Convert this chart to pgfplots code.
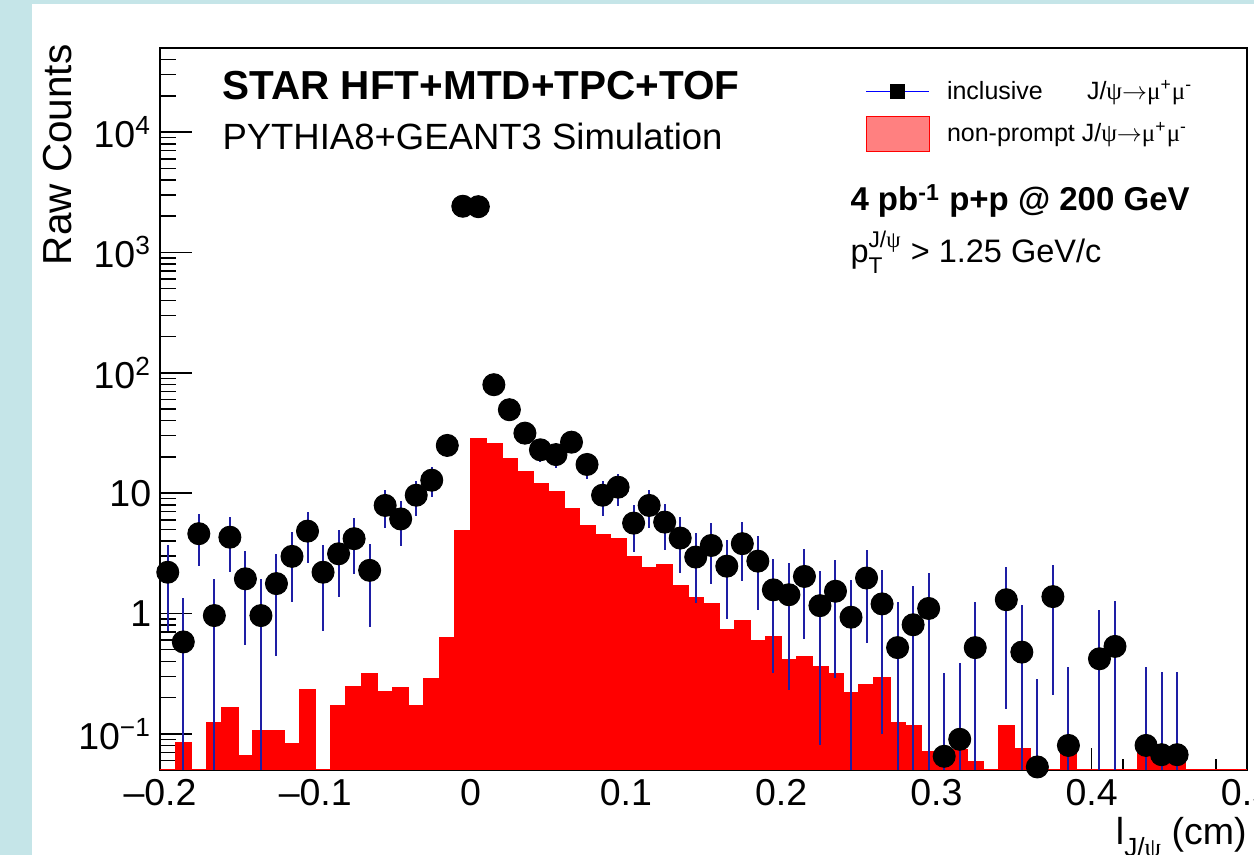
\documentclass[border=0pt]{standalone}
\usepackage{pgfplots}
\pgfplotsset{compat=1.18}
\usepackage{pgfplotstable}
\usepackage{amsmath}
\usepackage{fontspec}
\setmainfont{Liberation Sans}
\newfontfamily\symf{Liberation Serif}
\definecolor{bgblue}{RGB}{197,229,232}
\definecolor{errblue}{RGB}{30,30,165}
\newcommand{\jpmm}{J/{\symf ψ}$\rightarrow${\symf μ}\textsuperscript{+}{\symf μ}\textsuperscript{-}}

\pgfplotstableread{
x y ep em
-0.195 2.2 1.48 1.48
-0.185 0.58 0.76 0.56
-0.175 4.6 2.14 2.14
-0.165 0.96 0.98 0.94
-0.155 4.3 2.07 2.07
-0.145 1.94 1.39 1.39
-0.135 0.96 0.98 0.94
-0.125 1.77 1.33 1.33
-0.115 2.98 1.73 1.73
-0.105 4.83 2.20 2.20
-0.095 2.2 1.48 1.48
-0.085 3.13 1.77 1.77
-0.075 4.18 2.04 2.04
-0.065 2.28 1.51 1.51
-0.055 7.9 2.81 2.81
-0.045 6.1 2.47 2.47
-0.035 9.6 3.10 3.10
-0.025 12.8 3.58 3.58
-0.015 24.9 4.99 4.99
-0.005 2420 49.2 49.2
0.005 2400 49.0 49.0
0.015 79.6 8.9 8.9
0.025 49.3 7.0 7.0
0.035 31.5 5.6 5.6
0.045 22.9 4.8 4.8
0.055 20.9 4.6 4.6
0.065 26.5 5.1 5.1
0.075 17.3 4.2 4.2
0.085 9.6 3.1 3.1
0.095 11.2 3.35 3.35
0.105 5.63 2.37 2.37
0.115 7.9 2.81 2.81
0.125 5.74 2.40 2.40
0.135 4.23 2.06 2.06
0.145 2.94 1.71 1.71
0.155 3.67 1.92 1.92
0.165 2.47 1.57 1.57
0.175 3.80 1.95 1.95
0.185 2.72 1.65 1.65
0.195 1.57 1.25 1.25
0.205 1.43 1.20 1.20
0.215 2.03 1.42 1.42
0.225 1.16 1.08 1.08
0.235 1.53 1.24 1.24
0.245 0.93 0.96 0.91
0.255 1.97 1.40 1.40
0.265 1.20 1.10 1.10
0.275 0.52 0.72 0.50
0.285 0.805 0.90 0.785
0.295 1.10 1.05 1.05
0.305 0.065 0.255 0.045
0.315 0.090 0.30 0.07
0.325 0.52 0.72 0.50
0.345 1.30 1.14 1.14
0.355 0.477 0.69 0.457
0.365 0.053 0.23 0.033
0.375 1.38 1.17 1.17
0.385 0.080 0.28 0.06
0.405 0.42 0.65 0.40
0.415 0.532 0.73 0.512
0.435 0.080 0.28 0.06
0.445 0.067 0.26 0.047
0.455 0.067 0.26 0.047
}\inclusive

\pgfplotstableread{
x y
-0.20 0.05
-0.19 0.0835
-0.18 0.05
-0.17 0.1225
-0.16 0.164
-0.15 0.0648
-0.14 0.105
-0.13 0.106
-0.12 0.0826
-0.11 0.232
-0.10 0.05
-0.09 0.171
-0.08 0.244
-0.07 0.315
-0.06 0.221
-0.05 0.241
-0.04 0.169
-0.03 0.286
-0.02 0.623
-0.01 4.81
0.00 27.9
0.01 25.5
0.02 19.05
0.03 14.95
0.04 11.97
0.05 10.2
0.06 7.42
0.07 5.32
0.08 4.51
0.09 4.18
0.10 2.94
0.11 2.37
0.12 2.54
0.13 1.70
0.14 1.35
0.15 1.19
0.16 0.732
0.17 0.858
0.18 0.589
0.19 0.636
0.20 0.412
0.21 0.434
0.22 0.362
0.23 0.315
0.24 0.219
0.25 0.252
0.26 0.292
0.27 0.1225
0.28 0.116
0.29 0.070
0.30 0.070
0.31 0.074
0.32 0.058
0.33 0.05
0.34 0.115
0.35 0.075
0.36 0.05
0.37 0.05
0.38 0.068
0.39 0.05
0.40 0.05
0.41 0.05
0.42 0.05
0.43 0.068
0.44 0.068
0.45 0.068
0.46 0.05
0.47 0.05
0.48 0.05
0.49 0.05
0.50 0.05
}\nonprompt

\begin{document}
\begin{tikzpicture}
\useasboundingbox (0,0) rectangle (501.6pt,342pt);
\fill[bgblue] (0,0) rectangle (501.6pt,342pt);
\fill[white] (12.7pt,0) rectangle (501.6pt,340.4pt);
\begin{axis}[
  at={(64pt,34pt)}, anchor=south west, scale only axis,
  width=434.8pt, height=288.8pt,
  xmin=-0.2, xmax=0.5, ymode=log, ymin=0.05, ymax=50000,
  xtick={-0.2,-0.1,0,0.1,0.2,0.3,0.4,0.5},
  xticklabels={–0.2,–0.1,0,0.1,0.2,0.3,0.4,0.5},
  minor xtick={-0.18,-0.16,-0.14,-0.12,-0.08,-0.06,-0.04,-0.02,0.02,0.04,0.06,0.08,0.12,0.14,0.16,0.18,0.22,0.24,0.26,0.28,0.32,0.34,0.36,0.38,0.42,0.44,0.46,0.48},
  ytick={0.1,1,10,100,1000,10000},
  yticklabels={10\textsuperscript{−1},1,10,10\textsuperscript{2},10\textsuperscript{3},10\textsuperscript{4}},
  minor ytick={0.05,0.06,0.07,0.08,0.09,0.2,0.3,0.4,0.5,0.6,0.7,0.8,0.9,2,3,4,5,6,7,8,9,20,30,40,50,60,70,80,90,200,300,400,500,600,700,800,900,2000,3000,4000,5000,6000,7000,8000,9000,20000,30000,40000},
  xtick pos=left, ytick pos=left,
  tick align=inside,
  major tick length=12.9pt, minor tick length=6.5pt,
  tick style={black, line width=0.6pt},
  xtick style={/pgfplots/major tick length=8.8pt,/pgfplots/minor tick length=4.4pt},
  ticklabel style={font=\fontsize{15}{18}\selectfont},
  axis line style={line width=0.7pt},
  clip mode=individual,
  legend cell align=left,
  legend style={at={(axis description cs:0.6486,0.963)}, anchor=north west,
    draw=none, fill=none, inner sep=0pt,
    font=\fontsize{10}{12}\selectfont, row sep=3pt,
    /tikz/every odd column/.append style={column sep=4.8pt}},
]
\addplot[const plot, fill=red, draw=red, line width=0.8pt, forget plot]
  table[x=x,y=y]{\nonprompt} -- cycle;
\addplot[only marks, mark=*, mark size=4.4pt, black, forget plot,
  error bars/.cd, y dir=both, y explicit, error mark=none,
  error bar style={errblue, line width=0.8pt}]
  table[x=x,y=y,y error plus=ep,y error minus=em]{\inclusive};
\addlegendimage{legend image code/.code={
  \draw[blue, line width=0.6pt] (0pt,0pt) -- (25.2pt,0pt);
  \fill[black] (9.8pt,-2.8pt) rectangle (15.4pt,2.8pt);}}
\addlegendentry{\makebox[56pt][l]{inclusive}\jpmm}
\addlegendimage{legend image code/.code={
  \draw[red, fill=red!50, line width=0.6pt] (0pt,-7pt) rectangle (25.2pt,7pt);}}
\addlegendentry{non-prompt \jpmm}
\end{axis}
\node[anchor=base west, inner sep=0pt, font=\fontsize{16.2}{19}\selectfont\bfseries] at (88.8pt,302pt) {STAR HFT+MTD+TPC+TOF};
\node[anchor=base west, inner sep=0pt, font=\fontsize{14.6}{17}\selectfont] at (88.8pt,282pt) {PYTHIA8+GEANT3 Simulation};
\node[anchor=base west, inner sep=0pt, font=\fontsize{13.2}{16}\selectfont\bfseries] at (340pt,257.6pt) {4 pb\textsuperscript{-1} p+p @ 200 GeV};
\node[anchor=base west, inner sep=0pt, font=\fontsize{13}{16}\selectfont] at (340pt,236.8pt) {p$^{\text{J/{\symf ψ}}}_{\text{T}}$ > 1.25 GeV/c};
\node[rotate=90, anchor=base east, inner sep=0pt, font=\fontsize{16.2}{19}\selectfont] at (28.8pt,324.4pt) {Raw Counts};
\node[anchor=base east, inner sep=0pt, font=\fontsize{15}{18}\selectfont] at (498.8pt,4pt) {l\raisebox{-0.32em}{\fontsize{10.5}{12}\selectfont J/{\symf ψ}} (cm)};
\end{tikzpicture}
\end{document}
